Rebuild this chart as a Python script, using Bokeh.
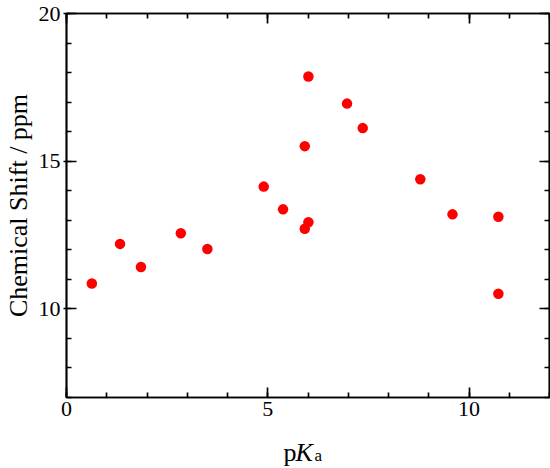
from bokeh.plotting import figure
from bokeh.layouts import column
from bokeh.models import (LinearAxis, SingleIntervalTicker, CustomJSTickFormatter,
                          Range1d, Label, ColumnDataSource)
from bokeh.embed import file_html
from bokeh.resources import INLINE

# pKa vs chemical shift
pka = [0.63, 1.33, 1.85, 2.84, 3.50, 4.90, 5.38, 5.92, 6.01, 5.92, 6.01,
       6.97, 7.36, 8.79, 9.59, 10.73, 10.73]
shift = [10.86, 12.20, 11.42, 12.56, 12.03, 14.14, 13.37, 12.71, 12.93, 15.51,
         17.87, 16.95, 16.12, 14.39, 13.20, 13.12, 10.51]

FONT = "Liberation Serif"
LW = 1.7

p = figure(width=550, height=428, output_backend="svg", toolbar_location=None,
           title=None,
           x_range=Range1d(0, 12), y_range=Range1d(7, 20),
           x_axis_location=None, y_axis_location=None,
           min_border_top=13, min_border_bottom=31, min_border_right=1,
           min_border_left=66)
p.xgrid.visible = False
p.ygrid.visible = False
p.outline_line_color = "black"
p.outline_line_width = LW
p.background_fill_color = "white"
p.border_fill_color = "white"

src = ColumnDataSource(data=dict(x=pka, y=shift))
p.scatter("x", "y", source=src, size=10.5, fill_color="#ff0000", line_color=None)


def style_axis(ax, show_labels, tick_out=0):
    ax.axis_line_color = "black"
    ax.axis_line_width = LW
    ax.major_tick_line_color = "black"
    ax.major_tick_line_width = LW
    ax.minor_tick_line_color = "black"
    ax.minor_tick_line_width = LW
    ax.major_tick_in = 10
    ax.major_tick_out = tick_out
    ax.minor_tick_in = 5
    ax.minor_tick_out = 0
    ax.major_label_text_font = FONT
    ax.major_label_text_font_size = "22px"
    ax.major_label_text_color = "black"
    ax.axis_label_text_font = FONT
    ax.axis_label_text_font_size = "26px"
    ax.axis_label_text_font_style = "normal"
    ax.axis_label_text_color = "black"
    if not show_labels:
        ax.formatter = CustomJSTickFormatter(code="return ''")
        ax.major_label_standoff = 0


xt = SingleIntervalTicker(interval=5, num_minor_ticks=5)
yt = SingleIntervalTicker(interval=5, num_minor_ticks=5)

bottom = LinearAxis(ticker=xt)
style_axis(bottom, True)
bottom.major_label_standoff = 4
p.add_layout(bottom, "below")

top = LinearAxis(ticker=xt)
style_axis(top, False)
p.add_layout(top, "above")

left = LinearAxis(ticker=yt, axis_label="Chemical Shift / ppm")
style_axis(left, True, tick_out=3)
left.major_label_standoff = 3
left.axis_label_standoff = 3
p.add_layout(left, "left")

right = LinearAxis(ticker=yt)
style_axis(right, False)
p.add_layout(right, "right")

# x label strip below the plot: p K(italic) with subscript a
q = figure(width=550, height=40, output_backend="svg", toolbar_location=None,
           title=None,
           x_range=p.x_range, y_range=Range1d(0, 40),
           x_axis_location=None, y_axis_location=None,
           min_border_top=0, min_border_bottom=0, min_border_right=1,
           min_border_left=66)
q.xgrid.visible = False
q.ygrid.visible = False
q.outline_line_color = None
q.border_fill_color = "white"
q.background_fill_color = "white"

lab_p = Label(x=6, y=16, text="p", x_offset=-24.5,
              text_font=FONT, text_font_size="26px",
              text_baseline="alphabetic", text_align="left", text_color="black")
lab_k = Label(x=6, y=16, text="K", x_offset=-12.5,
              text_font=FONT, text_font_size="26px", text_font_style="italic",
              text_baseline="alphabetic", text_align="left", text_color="black")
lab_a = Label(x=6, y=13.5, text="a", x_offset=6.5,
              text_font=FONT, text_font_size="17px",
              text_baseline="alphabetic", text_align="left", text_color="black")
for lab in (lab_p, lab_k, lab_a):
    q.add_layout(lab)

layout = column(p, q, spacing=0)
open("out.html", "w").write(file_html(layout, INLINE))
